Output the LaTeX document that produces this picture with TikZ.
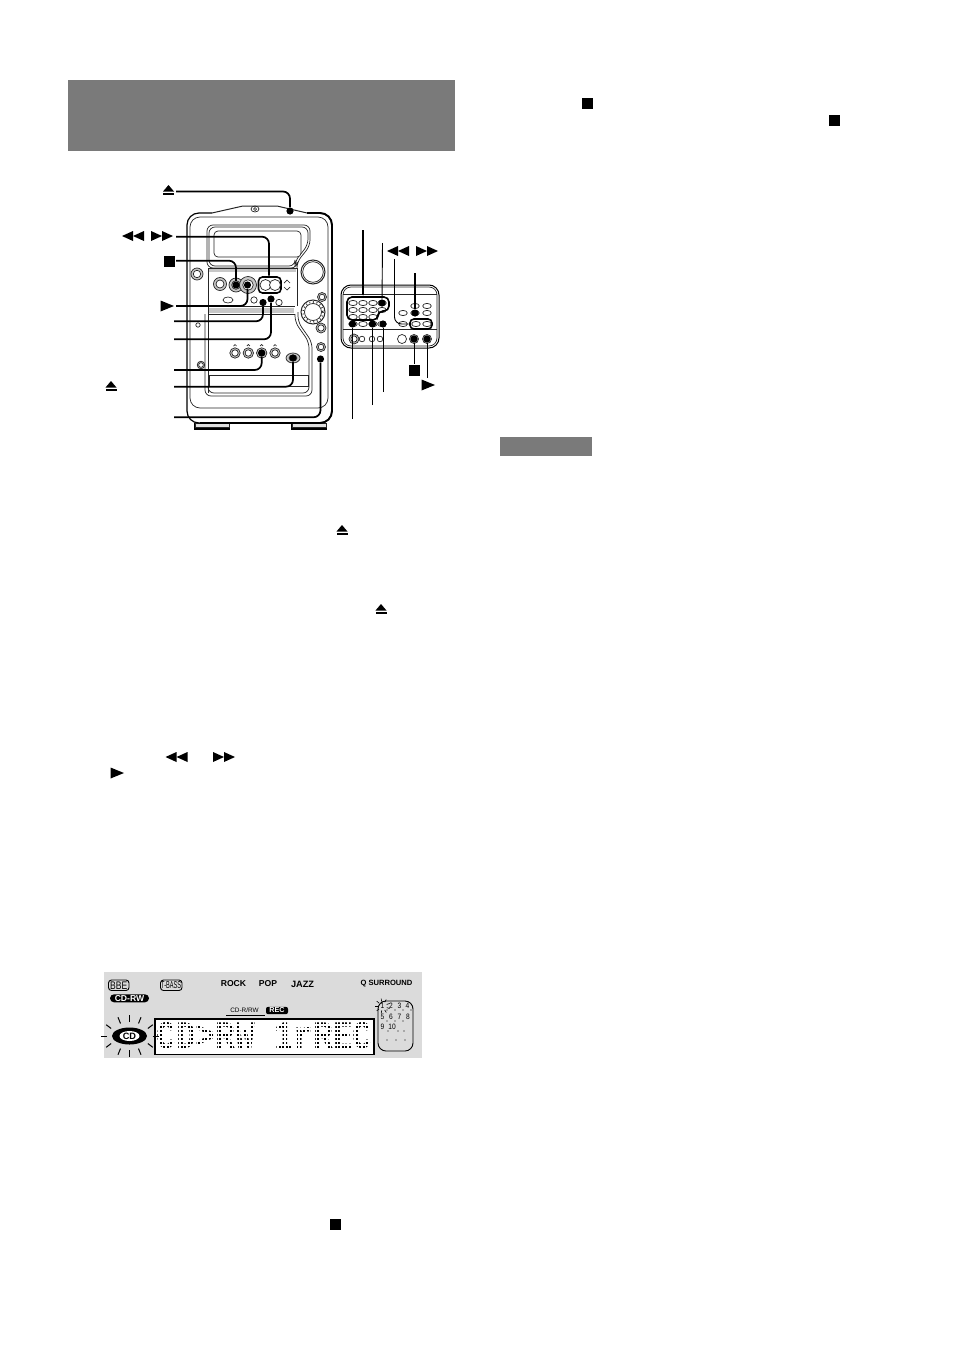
\documentclass[tikz,border=0pt]{standalone}
\usepackage{fontspec}
\setmainfont{Liberation Sans}
\newfontfamily\lcdfont{Liberation Mono}
\usetikzlibrary{calc,shapes.geometric}

\definecolor{headgray}{gray}{0.48}
\definecolor{lcdgray}{gray}{0.86}

\tikzset{
	leader/.style={line width=0.85pt,rounded corners=3.5pt},
	thinleader/.style={line width=0.45pt},
	btndot/.style={circle,fill=black,inner sep=0pt,minimum size=3.6pt},
	devline/.style={line width=0.35pt,draw=black!85},
	ejecticon/.pic={\fill (-5.5,1.5)--(5.5,1.5)--(0,-5)--cycle; \fill (-5.5,3)rectangle(5.5,5);},
	stopicon/.pic={\fill (-5.5,-5.5) rectangle (5.5,5.5);},
	playicon/.pic={\fill (-6.5,-5.5)--(7,0)--(-6.5,5.5)--cycle;},
	rewicon/.pic={\fill (0,-5)--(0,5)--(-11,0)--cycle; \fill (11,-5)--(11,5)--(0,0)--cycle;},
	fwdicon/.pic={\fill (-11,-5)--(-11,5)--(0,0)--cycle; \fill (0,-5)--(0,5)--(11,0)--cycle;},
}

% ring knob: x, y, radius
\newcommand{\ringknob}[3]{
	\draw[devline,fill=black!22] (#1,#2) circle [radius=#3];
	\draw[devline,fill=white] (#1,#2) circle [radius=#3*0.62];
}
% remote key: x, y
\newcommand{\remkey}[2]{\draw[devline,fill=white] (#1,#2) ellipse [x radius=4.3,y radius=2.6];}

\begin{document}
\begin{tikzpicture}[x=0.5pt,y=-0.5pt]
	\useasboundingbox (0,0) rectangle (954,1349);
	
	%grey bars
	\fill[headgray] (68,80) rectangle (455,151);
	\fill[headgray] (500,437) rectangle (592,456);
	
	%main unit: body and feet
	\draw[line width=0.7pt] (195,423)--(195,429)--(229,429)--(229,423);
	\draw[line width=0.7pt] (292,423)--(292,429)--(326,429)--(326,423);
	\draw[devline,fill=black!12] (229,423) rectangle (195,427);
	\draw[devline,fill=black!12] (326,423) rectangle (292,427);
	\draw[line width=0.6pt,rounded corners=6pt] (212,213)--(187,213)--(187,423)--(332,423)--(332,213)--(307,213);
	\draw[line width=0.95pt,rounded corners=6pt] (307,213)--(332,213)--(332,423)--(200,423);
	\draw[devline,line width=0.5pt] (212,213)--(243,206)--(277,206)--(307,213);
	\draw[devline,rounded corners=5pt] (190,217) rectangle (328,408);
	\draw[devline] (255,209) ellipse [x radius=4,y radius=3];
	\draw[devline] (255,209) circle [radius=1.5];
	
	%main unit: display and panels
	\draw[devline,rounded corners=3pt] (207,225)--(310,225)--(310,246)--(297,262)--(297,268)--(207,268)--cycle;
	\draw[devline,rounded corners=3pt] (209,227)--(308,227)--(308,245)--(295,261)--(295,266)--(209,266)--cycle;
	\draw[devline,fill=white,rounded corners=2pt] (214,231) rectangle (301,257);
	\fill[black!22] (209,268) rectangle (296,272);
	\draw[devline] (208,268)--(297,268)--(297,306);
	\draw[devline] (208,268)--(208,393);
	\draw[devline] (208,306)--(295,306);
	\fill[black!22] (209,308) rectangle (294,313);
	\draw[devline] (208,314)--(295,314);
	\draw[devline,rounded corners=3pt] (295,314)--(295,322)--(309,342)--(309,393)--(208,393)--(208,386);
	\draw[devline,rounded corners=3pt] (298,312)--(298,322)--(312,342)--(312,396)--(205,396)--(205,314);
	\draw[devline] (209,375) rectangle (308,386);
	
	%main unit: knobs and buttons
	\ringknob{197}{274}{6}
	\ringknob{220}{284}{6.5}
	\ringknob{236}{285}{7}
	\ringknob{248}{285}{8.5}
	\draw[devline] (228,300) ellipse [x radius=5,y radius=3];
	\draw[line width=0.8pt,fill=white,rounded corners=2pt] (258.5,277) rectangle (281,293);
	\draw[devline,fill=white] (265.5,285) circle [radius=5.5];
	\draw[devline,fill=white] (275,285) circle [radius=5.5];
	\draw[devline] (284,283)--(287,280)--(290,283);
	\draw[devline] (284,287)--(287,290)--(290,287);
	\draw[devline] (254,300) circle [radius=3.2];
	\draw[devline] (279,302.5) circle [radius=3.2];
	\draw[devline,line width=0.5pt] (313,272) circle [radius=12];
	\draw[devline] (313,272) circle [radius=10.3];
	\ringknob{322}{297}{4.5}
	\draw[devline,line width=0.5pt] (313,312) circle [radius=12];
	\draw[devline,line width=0.8pt,dash pattern=on 0.4pt off 1.4pt] (313,312) circle [radius=10];
	\draw[devline,fill=white] (313,312) circle [radius=8.5];
	\ringknob{321}{328}{5}
	\ringknob{321}{347}{4.5}
	\draw[devline] (198,325) circle [radius=2.2];
	\ringknob{201}{365}{3.8}
	\foreach \knobx in {235,248.3,261.7,275}{
		\ringknob{\knobx}{353}{5.2}
		\draw[devline] (\knobx-1.5,346)--(\knobx,344.5)--(\knobx+1.5,346);
	}
	\draw[devline,fill=black!22] (293,358) ellipse [x radius=7,y radius=5];
	\draw[devline,fill=white] (293,358) ellipse [x radius=4,y radius=3];
	
	%remote
	\draw[line width=0.5pt,rounded corners=5pt] (341,285) rectangle (439,348);
	\draw[devline,rounded corners=4pt] (343,287) rectangle (437,346);
	\draw[devline] (343,294)--(437,294);
	\draw[devline] (343,329)--(437,329);
	\foreach \keyx in {353,363,373,382}{
		\remkey{\keyx}{303}
		\remkey{\keyx}{310}
		\remkey{\keyx}{324}
	}
	\foreach \keyx in {353,363,373}{
		\remkey{\keyx}{317}
	}
	\remkey{415}{306} \remkey{427}{306}
	\remkey{403}{313} \remkey{415}{313} \remkey{427}{313}
	\remkey{403}{324}
	\draw[line width=0.8pt,rounded corners=2.5pt] (347,297)--(389,297)--(389,311)--(378,311)--(378,320)--(347,320)--cycle;
	\draw[line width=0.8pt,fill=white,rounded corners=2pt] (410,319) rectangle (432,329);
	\remkey{416}{324} \remkey{427}{324}
	\ringknob{354}{339}{5}
	\foreach \dialx in {362,372,380}{
		\draw[devline] (\dialx,339) circle [radius=2.8];
	}
	\draw[devline] (402,339) circle [radius=4.5];
	\ringknob{414}{339}{4.5}
	\ringknob{427}{339}{4.5}
	
	%button dots
	\node[btndot] (ejectbtn) at (290,211) {};
	\node[btndot,minimum size=1pt] (searchbtn) at (269,277) {};
	\node[btndot] (stopbtn) at (236,285) {};
	\node[btndot] (playbtn) at (247.5,285) {};
	\node[btndot] (modebtn) at (263,302.5) {};
	\node[btndot] (editbtn) at (271,299) {};
	\node[btndot] (srcbtn) at (261.7,353) {};
	\node[btndot] (trayebtn) at (293,358) {};
	\node[btndot] (recbtn) at (320.5,359) {};
	\node[btndot,minimum size=1pt] (padtop) at (363,296.5) {};
	\node[btndot] (padkey) at (382,303) {};
	\node[btndot,minimum size=1pt] (remsearch) at (410,324) {};
	\node[btndot] (remmode) at (415,313) {};
	\node[btndot] (remstop) at (414,339) {};
	\node[btndot] (remplay) at (427,339) {};
	\node[btndot] (remfirst) at (352.5,324) {};
	\node[btndot] (remthird) at (372.5,324) {};
	\node[btndot] (remfourth) at (383,324) {};
	
	%line starts
	\coordinate (ejecttail) at (176,191.5);
	\coordinate (searchtail) at (176,236.7);
	\coordinate (stoptail) at (176,260.7);
	\coordinate (playtail) at (176,306);
	\coordinate (modetail) at (174,321.3);
	\coordinate (edittail) at (174,339.3);
	\coordinate (srctail) at (174,370);
	\coordinate (trayetail) at (174,386.7);
	\coordinate (rectail) at (174,417.3);
	\coordinate (padtail) at (363,230);
	\coordinate (keytail) at (382.5,243);
	\coordinate (remsearchtail) at (394.5,259);
	\coordinate (modetailr) at (415,273);
	\coordinate (stoptailr) at (414,364);
	\coordinate (playtailr) at (427,378);
	\coordinate (firsttail) at (352.5,419);
	\coordinate (thirdtail) at (372.5,405);
	\coordinate (fourthtail) at (383,392);
	
	%leaders
	\draw[leader] (ejecttail) -| (ejectbtn);
	\draw[leader] (searchtail) -| (searchbtn);
	\draw[leader] (stoptail) -| (stopbtn);
	\draw[leader] (playtail) -| (playbtn);
	\draw[leader] (modetail) -| (modebtn);
	\draw[leader] (edittail) -| (editbtn);
	\draw[leader] (srctail) -| (srcbtn);
	\draw[leader] (trayetail) -| (trayebtn);
	\draw[leader] (rectail) -| (recbtn);
	\draw[leader] (padtail) -- (padtop);
	\draw[thinleader] (keytail) -- (padkey);
	\draw[thinleader,rounded corners=3.5pt] (remsearchtail) |- (remsearch);
	\draw[leader] (modetailr) -- (remmode);
	\draw[thinleader] (stoptailr) -- (remstop);
	\draw[thinleader] (playtailr) -- (remplay);
	\draw[leader] (firsttail) -- (remfirst);
	\draw[leader] (thirdtail) -- (remthird);
	\draw[thinleader] (fourthtail) -- (remfourth);
	
	%icons
	\pic at (168.5,190) {ejecticon};
	\pic at (111,386) {ejecticon};
	\pic at (342,530) {ejecticon};
	\pic at (381,609) {ejecticon};
	\pic at (133,236) {rewicon};
	\pic at (162,236) {fwdicon};
	\pic at (398,251) {rewicon};
	\pic at (427,251) {fwdicon};
	\pic at (176.5,757) {rewicon};
	\pic at (224,757) {fwdicon};
	\pic at (169,261) {stopicon};
	\pic at (414,370) {stopicon};
	\pic at (335,1224) {stopicon};
	\pic at (587,103) {stopicon};
	\pic at (834,120) {stopicon};
	\pic at (167,306) {playicon};
	\pic at (428,385) {playicon};
	\pic at (117,773) {playicon};
	
	%display panel
	\fill[lcdgray] (104,972) rectangle (422,1058);
	\draw[line width=0.45pt,rounded corners=1.5pt] (108.5,980) rectangle (129,990.5);
	\draw[line width=0.45pt,rounded corners=1.5pt] (160.5,980) rectangle (182,990.5);
	\node[font=\fontsize{5.5}{5.5}\selectfont,inner sep=0pt,xscale=0.78] (bbelabel) at (118.8,985.3) {BBE};
	\node[font=\fontsize{5}{5}\selectfont,inner sep=0pt,xscale=0.56] (tbasslabel) at (171.2,985.3) {T-BASS};
	\node[font=\bfseries\fontsize{4.3}{4.3}\selectfont,inner sep=0pt] (rocklabel) at (233.5,984) {ROCK};
	\node[font=\bfseries\fontsize{4.3}{4.3}\selectfont,inner sep=0pt] (poplabel) at (268,984) {POP};
	\node[font=\bfseries\fontsize{4.6}{4.6}\selectfont,inner sep=0pt] (jazzlabel) at (302.5,984) {JAZZ};
	\node[font=\bfseries\fontsize{3.8}{3.8}\selectfont,inner sep=0pt] (surroundlabel) at (386.5,984) {Q SURROUND};
	\node[fill=black,text=white,rounded corners=2pt,font=\bfseries\fontsize{4.3}{4.3}\selectfont,inner sep=0pt,minimum width=19.5pt,minimum height=4pt] (cdrwlabel) at (129.5,998.3) {CD-RW};
	\node[font=\fontsize{3.2}{3.2}\selectfont,inner sep=0pt] (cdrlabel) at (244.5,1010) {CD-R/RW};
	\draw[line width=0.4pt] (226,1015)--(265,1015);
	\node[fill=black,text=white,rounded corners=1pt,font=\bfseries\fontsize{3.6}{3.6}\selectfont,inner sep=0pt,minimum width=11pt,minimum height=3.6pt] (reclabel) at (277,1010.5) {REC};
	
	%lcd text with grid over it
	\draw[line width=0.6pt,fill=white] (155,1019) rectangle (374,1054);
	\node[font=\lcdfont\bfseries\fontsize{19.5}{19.5}\selectfont,inner sep=0pt,xscale=0.84] (lcdtext) at (264.5,1036) {CD>RW 1rREC};
	\foreach \gridx in {159,162.5,...,372}{
		\draw[white,line width=0.7pt] (\gridx,1020)--(\gridx,1053);
	}
	\foreach \gridy in {1021,1025,...,1053}{
		\draw[white,line width=0.9pt] (156,\gridy)--(373,\gridy);
	}
	
	%disc
	\fill (129.5,1036) ellipse [x radius=17.5,y radius=8.5];
	\fill[white] (129.5,1036) ellipse [x radius=10,y radius=5];
	\node[font=\bfseries\fontsize{4.6}{4.6}\selectfont,inner sep=0pt] (cdlabel) at (129.5,1036) {CD};
	\foreach \ang in {0,35,65,90,115,145,180,215,245,270,295,325}{
		\draw[line width=0.5pt] ($(129.5,1036)+({\ang}:{20+3*abs(cos(\ang))} and {12+2*abs(sin(\ang))})$)--($(129.5,1036)+({\ang}:{26+3*abs(cos(\ang))} and {18+3*abs(sin(\ang))})$);
	}
	
	%track box
	\draw[line width=0.45pt,rounded corners=4pt] (378,1001) rectangle (413,1051);
	\foreach \num/\numx/\numy in {1/382.5/1006,2/391/1006,3/399.5/1006,4/407.5/1006,5/382.5/1016.5,6/391/1016.5,7/399.5/1016.5,8/408/1016.5,9/382.5/1026.5,10/392/1026.5}{
		\node[font=\fontsize{3.9}{3.9}\selectfont,inner sep=0pt,xscale=0.85] (track\num) at (\numx,\numy) {\num};
	}
	\foreach \dotx/\doty in {387/1010,395/1010,403/1010,411/1010,387/1021,395/1021,403/1021,388/1031,398/1031,404/1031,387/1040,396/1040,405/1040}{
		\fill (\dotx,\doty) circle [radius=0.6];
	}
	\foreach \ang in {100,140,180,220,260,300,340,60,20}{
		\draw[line width=0.3pt] ($(382.5,1006)+(\ang:4.5)$)--($(382.5,1006)+(\ang:7.5)$);
	}
	%\draw[help lines,step=100] (0,0) grid (954,1349);
\end{tikzpicture}
\end{document}
